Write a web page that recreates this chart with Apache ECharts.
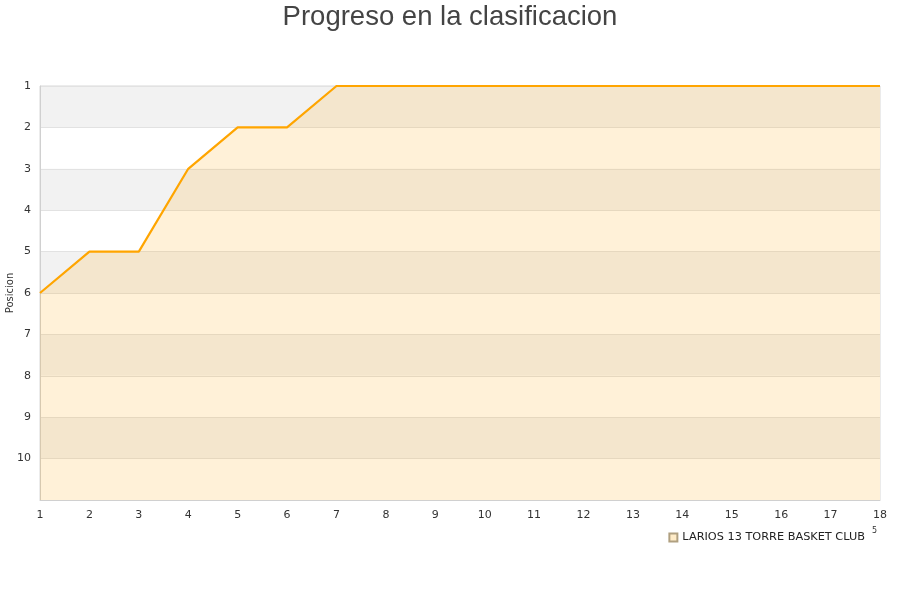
<!DOCTYPE html>
<html>
<head>
<meta charset="utf-8">
<script src="https://cdn.jsdelivr.net/npm/echarts@6/dist/echarts.min.js"></script>
<style>html,body{margin:0;padding:0;background:#fff;}#c{width:900px;height:600px;}</style>
</head>
<body>
<div id="c"></div>
<script>
var titleText = 'Progreso en la clasificacion';
var jornadas = ['1','2','3','4','5','6','7','8','9','10','11','12','13','14','15','16','17','18'];
var posiciones = [6,5,5,3,2,2,1,1,1,1,1,1,1,1,1,1,1,1];
var teamName = 'LARIOS 13 TORRE BASKET CLUB';
var yAxisName = 'Posicion';

var chart = echarts.init(document.getElementById('c'));
chart.setOption({
  animation: false,
  backgroundColor: '#ffffff',
  textStyle: { fontFamily: 'DejaVu Sans' },
  title: {
    text: titleText,
    left: 'center',
    top: -2,
    textStyle: { fontFamily: 'Liberation Sans', fontSize: 27.5, fontWeight: 'normal', color: '#444444' }
  },
  grid: { left: 40, right: 20, top: 86, bottom: 100, outerBoundsMode: 'none', containLabel: false, show: true, borderColor: '#d8d8d8', borderWidth: 1, backgroundColor: 'transparent' },
  legend: {
    data: [teamName],
    right: 30,
    top: 527,
    icon: 'rect',
    itemWidth: 8,
    itemHeight: 8,
    itemGap: 10,
    textStyle: { fontFamily: 'DejaVu Sans', fontSize: 11.3, color: '#222' }
  },
  xAxis: {
    type: 'category',
    data: jornadas,
    boundaryGap: false,
    axisLine: { show: true, lineStyle: { color: '#d0d0d0' } },
    axisTick: { show: false },
    axisLabel: { color: '#333', fontSize: 11, margin: 10 },
    splitLine: { show: false }
  },
  yAxis: {
    type: 'value',
    inverse: true,
    min: 1,
    max: 11,
    interval: 1,
    name: yAxisName,
    nameLocation: 'middle',
    nameGap: 25,
    nameMoveOverlap: false,
    nameTextStyle: { fontSize: 10, color: '#333' },
    axisLine: { show: true, lineStyle: { color: '#d0d0d0' } },
    axisTick: { show: false },
    axisLabel: { color: '#333', fontSize: 11, margin: 9, formatter: function (v) { return v <= 10 ? String(v) : ''; } },
    splitLine: { show: true, lineStyle: { color: '#e2e2e2' } },
    splitArea: { show: true, areaStyle: { color: ['#f2f2f2', '#ffffff'] } }
  },
  series: [{
    name: teamName,
    type: 'line',
    data: posiciones,
    symbol: 'none',
    lineStyle: { color: '#ffa500', width: 2.2 },
    itemStyle: { color: '#ffecc8', borderColor: '#b0a080', borderWidth: 1 },
    areaStyle: { color: 'rgba(255,165,0,0.22)', origin: 'end' }
  }],
  graphic: [{
    type: 'text',
    left: 872,
    top: 527,
    style: { text: '5', fontSize: 8, fill: '#333', fontFamily: 'DejaVu Sans' }
  }]
});
</script>
</body>
</html>
